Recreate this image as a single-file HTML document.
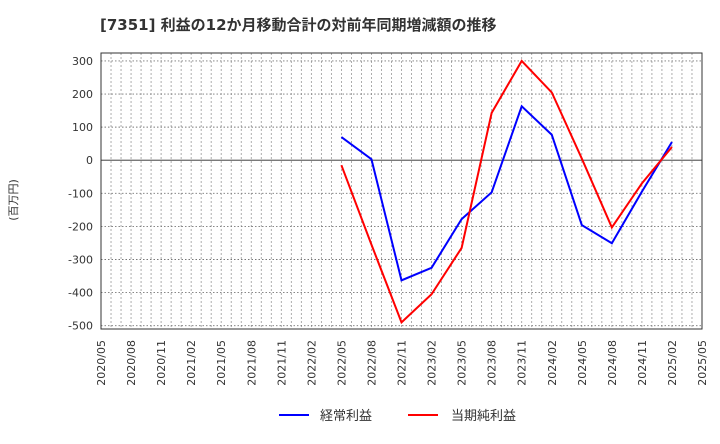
<!DOCTYPE html>
<html><head><meta charset="utf-8"><style>
body{margin:0;background:#fff;width:720px;height:440px;overflow:hidden;font-family:"DejaVu Sans","Noto Sans CJK JP",sans-serif}
</style></head><body>
<svg width="720" height="440" xmlns="http://www.w3.org/2000/svg">
<text x="100" y="30" font-size="15" font-weight="bold" fill="#333">[7351]  利益の12か月移動合計の対前年同期増減額の推移</text>
<text transform="translate(17,200) rotate(-90)" text-anchor="middle" font-size="11" fill="#333">(百万円)</text>
<g id="grid"></g><g id="axes"></g><g id="series"></g>
<g>
<line x1="279" y1="415" x2="309" y2="415" stroke="#0000ff" stroke-width="2"/>
<text x="320" y="420" font-size="13" fill="#333">経常利益</text>
<line x1="408" y1="415" x2="438" y2="415" stroke="#ff0000" stroke-width="2"/>
<text x="451" y="420" font-size="13" fill="#333">当期純利益</text>
</g>
</svg>
<script>
const xLabels=["2020/05","2020/08","2020/11","2021/02","2021/05","2021/08","2021/11","2022/02","2022/05","2022/08","2022/11","2023/02","2023/05","2023/08","2023/11","2024/02","2024/05","2024/08","2024/11","2025/02","2025/05"];
const yTicks=[300,200,100,0,-100,-200,-300,-400,-500];
const ordinaryProfit=[null,null,null,null,null,null,null,null,70,3,-363,-325,-178,-97,163,77,-196,-251,-95,55];
const netProfit=[null,null,null,null,null,null,null,null,-15,-255,-490,-405,-265,143,300,205,5,-203,-70,40];
const NS="http://www.w3.org/2000/svg";
const L=101,R=702,T=53,B=329,yMax=324,yMin=-510;
const xs=i=>L+(R-L)*i/20;
const ys=v=>T+(yMax-v)/(yMax-yMin)*(B-T);
function mk(tag,attrs,parent){const e=document.createElementNS(NS,tag);for(const k in attrs)e.setAttribute(k,attrs[k]);document.getElementById(parent).appendChild(e);return e;}
for(let m=1;m<60;m++){const x=L+(R-L)*m/60;
const g=mk('line',{x1:x,x2:x,y1:T,y2:B,stroke:'#999','stroke-width':0.8,'stroke-dasharray':'2,2'},'grid');

}
yTicks.forEach(v=>{const y=ys(v);
const g=mk('line',{x1:L,x2:R,y1:y,y2:y,stroke:v===0?'#666':'#777','stroke-width':v===0?1.2:0.9,'stroke-dasharray':v===0?'none':'1.5,2'},'grid');


const t=mk('text',{x:L-8,y:y+4,'text-anchor':'end','font-size':11,fill:'#333'},'axes');t.textContent=v;

});
xLabels.forEach((s,i)=>{const x=xs(i);
const t=mk('text',{transform:`translate(${x+4},${B+11}) rotate(-90)`,'text-anchor':'end','font-size':11,fill:'#333'},'axes');t.textContent=s;

});
const fr=mk('rect',{x:L,y:T,width:R-L,height:B-T,fill:'none',stroke:'#333','stroke-width':1},'axes');


function line(arr,color,name){let d='';arr.forEach((v,i)=>{if(v===null)return;d+=(d?'L':'M')+xs(i)+','+ys(v);});
const p=mk('path',{d:d,fill:'none',stroke:color,'stroke-width':2},'series');

}
line(ordinaryProfit,'#0000ff','ordinary-profit-line');
line(netProfit,'#ff0000','net-profit-line');
</script>
</body></html>
